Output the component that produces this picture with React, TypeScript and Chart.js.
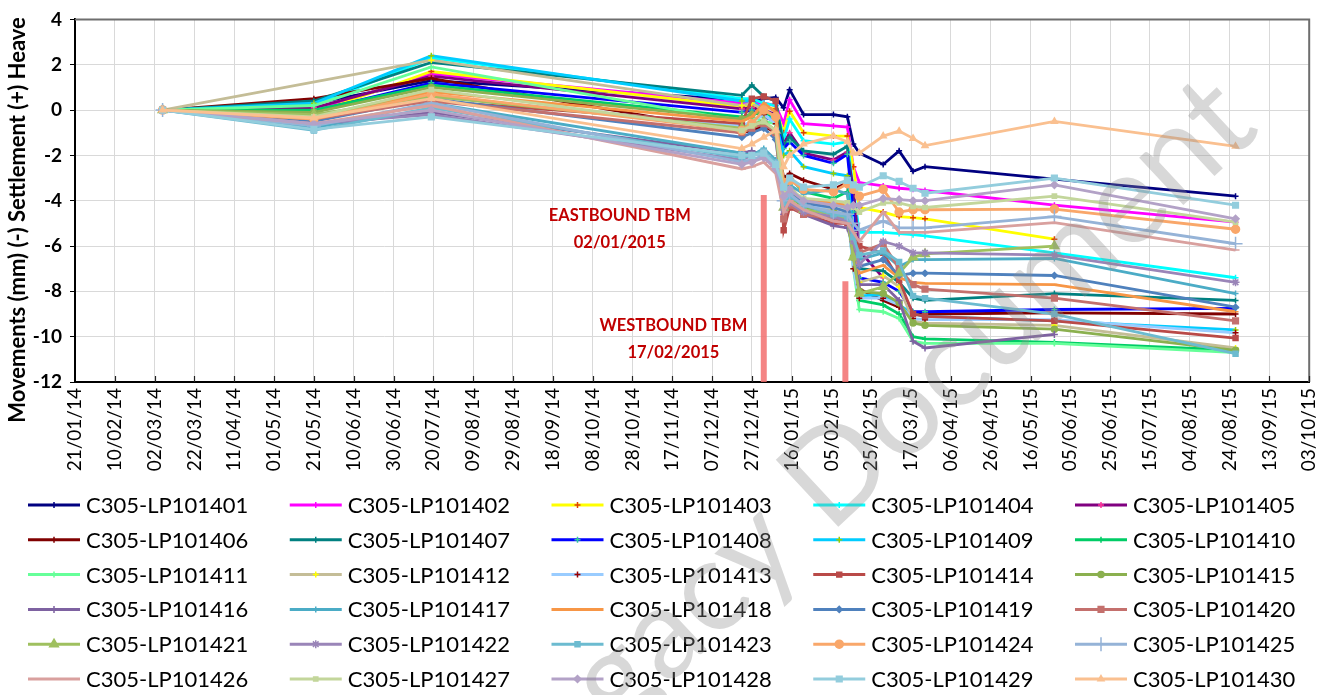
import React, { useEffect, useRef } from "react";
import { Chart, registerables } from "chart.js";
import { drawPoint } from "chart.js/helpers";

Chart.register(...registerables);

const FONT = "Lato, 'Open Sans', sans-serif";

// ---------- data ----------
const tickDates = [
  "21/01/14", "10/02/14", "02/03/14", "22/03/14", "11/04/14", "01/05/14", "21/05/14", "10/06/14",
  "30/06/14", "20/07/14", "09/08/14", "29/08/14", "18/09/14", "08/10/14", "28/10/14", "17/11/14",
  "07/12/14", "27/12/14", "16/01/15", "05/02/15", "25/02/15", "17/03/15", "06/04/15", "26/04/15",
  "16/05/15", "05/06/15", "25/06/15", "15/07/15", "04/08/15", "24/08/15", "13/09/15", "03/10/15",
];

const measurementDates = [
  "06/03/14", "21/05/14", "19/07/14", "22/12/14", "27/12/14", "02/01/15", "08/01/15", "12/01/15",
  "15/01/15", "22/01/15", "06/02/15", "13/02/15", "16/02/15", "19/02/15", "03/03/15", "11/03/15",
  "18/03/15", "24/03/15", "28/05/15", "27/08/15",
];

const seriesNames = [
  "C305-LP101401", "C305-LP101402", "C305-LP101403", "C305-LP101404", "C305-LP101405",
  "C305-LP101406", "C305-LP101407", "C305-LP101408", "C305-LP101409", "C305-LP101410",
  "C305-LP101411", "C305-LP101412", "C305-LP101413", "C305-LP101414", "C305-LP101415",
  "C305-LP101416", "C305-LP101417", "C305-LP101418", "C305-LP101419", "C305-LP101420",
  "C305-LP101421", "C305-LP101422", "C305-LP101423", "C305-LP101424", "C305-LP101425",
  "C305-LP101426", "C305-LP101427", "C305-LP101428", "C305-LP101429", "C305-LP101430",
];

const lp401 = [0, 0.3, 1.3, 0.45, 0.35, 0.5, 0.55, 0.1, 0.9, -0.2, -0.2, -0.3, -1.5, -1.9, -2.4, -1.8, -2.7, -2.5, -3.05, -3.8];
const lp402 = [0, 0.0, 1.6, 0.3, 0.3, 0.3, 0.2, -0.6, 0.45, -0.6, -0.7, -0.75, -2.5, -3.2, -3.35, -3.45, -3.5, -3.55, -4.2, -4.95];
const lp403 = [0, -0.15, 1.7, 0.15, 0.2, 0.1, 0.05, -1.0, -0.05, -1.0, -1.15, -1.15, -2.5, -4.3, -4.5, -4.7, -4.75, -4.8, -5.7, null];
const lp404 = [0, 0.2, 2.3, 0.5, 0.5, 0.3, 0.2, -1.3, -0.4, -1.35, -1.5, -1.4, -3.5, -5.4, -5.4, -5.45, -5.5, -5.55, -6.3, -7.4];
const lp405 = [0, 0.1, 1.5, 0.05, 0.1, 0.0, -0.2, -1.5, -1.0, -1.9, -2.2, -1.85, -3.5, -6.2, -7.4, null, null, null, null, null];
const lp406 = [0, 0.5, 1.4, -1.0, -0.9, -0.7, -1.0, -3.0, -2.8, -3.1, -3.5, -3.2, -5.5, -7.9, -8.4, -8.7, -9.0, -9.0, -8.95, -9.0];
const lp407 = [0, 0.4, 2.1, 0.65, 1.1, 0.6, 0.4, -1.6, -1.2, -1.8, -1.95, -1.6, -4.5, -7.0, -7.1, -7.6, -8.3, -8.4, -8.1, -8.4];
const lp408 = [0, -0.05, 1.2, -0.1, 0.0, -0.3, -0.5, -1.7, -1.4, -2.0, -2.35, -1.95, -4.5, -7.4, -7.6, -8.0, -8.9, -8.9, -8.8, -8.75];
const lp409 = [0, 0.3, 2.4, 0.4, 0.4, 0.0, -0.5, -2.0, -1.8, -2.5, -2.8, -2.9, -5.5, -8.2, -8.15, -8.6, -9.0, -9.1, -9.3, -9.7];
const lp410 = [0, 0.0, 1.1, -0.3, -0.2, -0.1, -0.3, -3.2, -3.0, -3.6, -3.9, -3.6, -6.0, -8.4, -8.6, -9.0, -10.0, -10.1, -10.25, -10.6];
const lp411 = [0, 0.2, 1.9, -0.5, -0.3, -0.5, -0.6, -3.8, -3.5, -4.0, -4.2, -4.3, -7.0, -8.8, -8.9, -9.2, -10.2, -10.3, -10.3, -10.7];
const lp412 = [0, null, 2.2, 0.2, 0.3, 0.0, -0.3, -3.5, -3.3, -4.1, -4.4, -4.4, -6.5, -7.6, -7.3, -7.8, -9.3, -9.4, -9.5, -10.5];
const lp413 = [0, -0.3, 0.6, -0.7, -0.5, -0.2, -0.6, -4.0, -3.6, -4.2, -4.3, -4.5, -7.0, -8.3, -8.3, -8.6, -9.2, -9.25, -9.25, -9.83];
const lp414 = [0, -0.2, 0.4, -0.6, 0.5, 0.6, 0.4, -5.3, -4.3, -4.6, -5.0, -5.0, -5.5, -6.0, -6.3, -7.5, -9.0, -9.1, -9.3, -10.06];
const lp415 = [0, -0.1, 1.0, -0.4, -0.2, 0.0, -0.3, -4.2, -3.8, -4.3, -4.5, -4.6, -6.5, -8.0, -8.1, -8.5, -9.4, -9.5, -9.67, -10.6];
const lp416 = [0, -0.7, -0.1, -1.9, -1.8, -2.0, -2.3, -4.6, -4.2, -4.6, -5.1, -5.2, -6.0, -7.7, -7.7, -8.4, -10.2, -10.5, -9.9, null];
const lp417 = [0, -0.8, 0.3, -1.9, -2.0, -1.7, -2.2, -3.6, -3.3, -3.7, -3.5, -3.7, -5.5, -6.6, -6.3, -6.9, -6.6, -6.6, -6.55, -8.1];
const lp418 = [0, -0.3, 0.8, -0.5, -0.3, 0.3, -0.1, -3.9, -3.6, -4.0, -4.1, -4.2, -5.8, -7.2, -6.85, -7.4, -7.6, -7.65, -7.7, -8.9];
const lp419 = [0, -0.5, 0.5, -1.2, -1.0, -0.8, -1.3, -4.0, -3.7, -4.1, -4.3, -4.5, -5.8, -6.9, -6.6, -7.3, -7.2, -7.2, -7.3, -8.7];
const lp420 = [0, -0.4, 0.4, -1.0, -0.8, -0.6, -1.0, -4.8, -4.2, -4.6, -4.8, -4.9, -5.7, -6.3, -5.9, -7.0, -7.7, -7.9, -8.3, -9.3];
const lp421 = [0, -0.2, 0.6, -0.8, -0.6, -0.5, -0.9, -4.3, -4.0, -4.4, -4.6, -4.8, -6.5, -8.1, -7.8, -7.2, -6.5, -6.35, -6.0, null];
const lp422 = [0, -0.6, -0.2, -2.2, -2.0, -1.9, -2.4, -4.4, -4.1, -4.5, -4.7, -4.9, -5.8, -6.8, -5.8, -6.0, -6.3, -6.3, -6.4, -7.6];
const lp423 = [0, -0.9, 0.1, -2.1, -2.0, -1.8, -2.3, -4.1, -3.8, -4.2, -4.6, -4.7, -5.6, -6.4, -6.2, -6.7, -8.2, -8.3, -9.0, -10.75];
const lp424 = [0, -0.4, 0.7, -0.9, -0.6, 0.0, -0.3, -3.2, -3.1, -3.5, -3.6, -3.25, -3.5, -3.8, -3.5, -4.5, -4.4, -4.4, -4.37, -5.26];
const lp425 = [0, -0.7, 0.3, -2.3, -2.2, -2.0, -2.5, -4.0, -3.7, -4.2, -4.5, -4.6, -5.0, -5.3, -4.9, -5.2, -5.2, -5.2, -4.7, -5.9];
const lp426 = [0, -0.6, 0.2, -2.6, -2.5, -2.3, -2.8, -4.5, -4.0, -4.4, -4.9, -5.0, -5.4, -5.8, -4.5, -5.4, -5.4, -5.4, -4.97, -6.18];
const lp427 = [0, -0.3, 0.9, -0.9, -0.7, -0.5, -0.9, -3.7, -3.5, -3.9, -4.0, -4.1, -4.3, -4.5, -4.1, -4.1, -4.25, -4.3, -3.8, -4.95];
const lp428 = [0, -0.6, 0.0, -2.4, -2.3, -2.1, -2.6, -3.8, -3.5, -4.0, -4.2, -4.3, -4.2, -4.2, -3.9, -3.95, -4.0, -4.0, -3.3, -4.8];
const lp429 = [0, -0.85, -0.3, -2.0, -2.0, -1.9, -2.4, -3.4, -3.0, -3.4, -3.3, -3.1, -3.3, -3.4, -2.9, -3.15, -3.45, -3.67, -3.0, -4.2];
const lp430 = [0, -0.35, 0.5, -1.7, -1.5, -1.2, -0.9, -2.5, -2.0, -1.5, -1.15, -1.4, -1.9, -1.9, -1.15, -0.93, -1.25, -1.57, -0.5, -1.6];

const seriesValues = [
  lp401, lp402, lp403, lp404, lp405, lp406, lp407, lp408, lp409, lp410,
  lp411, lp412, lp413, lp414, lp415, lp416, lp417, lp418, lp419, lp420,
  lp421, lp422, lp423, lp424, lp425, lp426, lp427, lp428, lp429, lp430,
];

// TBM passage markers
const markerDates = ["02/01/15", "12/02/15"];
const markerTops = [-3.75, -7.55];
const markerLabels = [
  ["EASTBOUND TBM", "02/01/2015"],
  ["WESTBOUND TBM", "17/02/2015"],
];

// ---------- styles ----------
const seriesColors = [
  "#000080", "#FF00FF", "#FFFF00", "#00FFFF", "#800080",
  "#800000", "#008080", "#0000FF", "#00CCFF", "#00CC66",
  "#66FF99", "#C4BD97", "#99CCFF", "#B94A48", "#8BB04F",
  "#7E62A1", "#4BACC6", "#F79646", "#4F81BD", "#C4706D",
  "#9FC05F", "#9A85B8", "#6CBBD0", "#F9A76A", "#95B3D7",
  "#D9A09E", "#C3D69B", "#B3A2C7", "#93CDDD", "#FAC090",
];
const markerColors = [
  null, null, "#E04000", null, "#FF3399",
  null, null, "#33CC99", "#99CC00", null,
  null, "#FFFF00", "#990000", null, null,
  null, null, null, null, null,
  null, null, null, null, null,
  null, null, null, null, null,
];
const markerStyles = [
  "cross", "cross", "cross", "cross", "cross",
  "cross", "cross", "cross", "cross", "cross",
  "cross", "cross", "cross", "rect", "circle",
  "cross", "cross", "dash", "rectRot", "rect",
  "triangle", "star", "rect", "circle", "cross",
  "dash", "rect", "rectRot", "rect", "triangle",
];
const markerSizes = [
  3, 3, 3, 3, 3,
  3, 3, 3, 3, 3,
  3, 3, 3, 3.5, 3,
  3.5, 3, 3, 3, 4,
  5, 4, 3.5, 4, 7,
  4, 3, 3.5, 4, 3.5,
];

const toDay = (s: string) => {
  const [d, m, y] = s.split("/").map(Number);
  return Date.UTC(2000 + y, m - 1, d) / 86400000;
};

const decorPlugin = {
  id: "decor",
  afterDatasetsDraw(chart: any) {
    const { ctx, chartArea } = chart;
    const { left, right, top, bottom } = chartArea;
    ctx.save();
    // frame top/right
    ctx.strokeStyle = "#6e6e6e";
    ctx.lineWidth = 2;
    ctx.beginPath();
    ctx.moveTo(left, top);
    ctx.lineTo(right, top);
    ctx.lineTo(right, bottom);
    ctx.stroke();
    // inside tick marks on x axis
    const xs = chart.scales.x;
    ctx.strokeStyle = "#222";
    ctx.lineWidth = 1.2;
    tickDates.forEach((d, i) => {
      if (i === 0) return;
      const px = Math.round(xs.getPixelForValue(toDay(d))) + 0.5;
      ctx.beginPath();
      ctx.moveTo(px, bottom);
      ctx.lineTo(px, bottom - 6);
      ctx.stroke();
    });
    ctx.restore();
  },
  afterDraw(chart: any) {
    const { ctx } = chart;
    const xs = chart.scales.x;
    const ys = chart.scales.y;
    ctx.save();

    // y-axis title
    ctx.save();
    ctx.translate(18, 220);
    ctx.rotate(-Math.PI / 2);
    ctx.fillStyle = "#000";
    ctx.font = `bold 22px ${FONT}`;
    ctx.textAlign = "center";
    ctx.textBaseline = "middle";
    ctx.fillText("Movements (mm) (-) Settlement (+) Heave", 0, 0);
    ctx.restore();

    // TBM annotation texts
    const annot = [
      { dx: -144, y: -4.65 },
      { dx: -172, y: -9.5 },
    ];
    ctx.fillStyle = "#C00000";
    ctx.font = `bold 16.5px ${FONT}`;
    ctx.textAlign = "center";
    ctx.textBaseline = "middle";
    markerDates.forEach((d, i) => {
      const px = xs.getPixelForValue(toDay(d)) + annot[i].dx;
      const py = ys.getPixelForValue(annot[i].y);
      markerLabels[i].forEach((t, j) => ctx.fillText(t, px, py + j * 27));
    });

    // legend
    const colW = 261.75;
    const rowH = 34.8;
    seriesNames.forEach((name, i) => {
      const col = i % 5;
      const row = Math.floor(i / 5);
      const x0 = 28 + col * colW;
      const y = 505 + row * rowH;
      ctx.strokeStyle = seriesColors[i];
      ctx.lineWidth = 3;
      ctx.beginPath();
      ctx.moveTo(x0, y);
      ctx.lineTo(x0 + 52, y);
      ctx.stroke();
      const mc = markerColors[i] || seriesColors[i];
      ctx.fillStyle = mc;
      ctx.strokeStyle = mc;
      ctx.lineWidth = 1.5;
      drawPoint(ctx, { pointStyle: markerStyles[i], radius: markerSizes[i], borderWidth: 1.5, rotation: 0 }, x0 + 26, y);
      ctx.fillStyle = "#000";
      ctx.font = `22px ${FONT}`;
      ctx.textAlign = "left";
      ctx.textBaseline = "middle";
      ctx.fillText(name, x0 + 58, y + 1);
    });

    // watermark
    ctx.save();
    ctx.translate(1262, 132);
    ctx.rotate(-0.75);
    ctx.fillStyle = "rgba(140,140,140,0.34)";
    ctx.font = `128px ${FONT}`;
    ctx.textAlign = "right";
    ctx.textBaseline = "alphabetic";
    ctx.fillText("Legacy Document", 0, 0);
    ctx.restore();

    ctx.restore();
  },
};

export default function App() {
  const canvasRef = useRef<HTMLCanvasElement | null>(null);

  useEffect(() => {
    document.body.style.margin = "0";
    const canvas = canvasRef.current;
    if (!canvas) return;

    const xDays = measurementDates.map(toDay);

    const datasets: any[] = seriesValues.map((vals, i) => ({
      label: seriesNames[i],
      data: vals
        .map((v, j) => (v === null ? null : { x: xDays[j], y: v }))
        .filter((p) => p !== null),
      borderColor: seriesColors[i],
      backgroundColor: seriesColors[i],
      borderWidth: 2.8,
      pointStyle: markerStyles[i],
      pointRadius: markerSizes[i],
      pointBorderWidth: 1.5,
      pointBackgroundColor: markerColors[i] || seriesColors[i],
      pointBorderColor: markerColors[i] || seriesColors[i],
      tension: 0,
      order: 40 - i,
    }));

    markerDates.forEach((d, i) => {
      datasets.push({
        label: "marker" + i,
        data: [
          { x: toDay(d), y: markerTops[i] },
          { x: toDay(d), y: -12 },
        ],
        borderColor: "rgba(242,110,110,0.85)",
        borderWidth: 6,
        borderCapStyle: "butt",
        pointRadius: 0,
        order: 0,
      });
    });

    const chart = new Chart(canvas, {
      type: "line",
      data: { datasets },
      options: {
        responsive: false,
        animation: false,
        devicePixelRatio: 1,
        layout: { padding: { left: 0, right: 25, top: 13, bottom: 0 } },
        plugins: {
          legend: { display: false },
          tooltip: { enabled: false },
        },
        scales: {
          x: {
            type: "linear",
            min: toDay(tickDates[0]),
            max: toDay(tickDates[tickDates.length - 1]),
            afterBuildTicks: (axis: any) => {
              axis.ticks = tickDates.map((d) => ({ value: toDay(d) }));
            },
            afterFit: (axis: any) => {
              axis.height = 313;
            },
            ticks: {
              autoSkip: false,
              maxRotation: 90,
              minRotation: 90,
              padding: 6,
              color: "#000",
              font: { family: FONT, size: 19 },
              callback: (_v: any, i: number) => tickDates[i],
            },
            grid: { color: "#d9d9d9", lineWidth: 1, drawTicks: false },
            border: { display: true, color: "#000", width: 2 },
          },
          y: {
            min: -12,
            max: 4,
            afterFit: (axis: any) => {
              axis.width = 75;
            },
            ticks: {
              stepSize: 2,
              padding: 8,
              color: "#000",
              font: { family: FONT, size: 19, weight: "bold" },
            },
            grid: { color: "#d9d9d9", tickColor: "#000", tickLength: 5 },
            border: { display: true, color: "#000", width: 2 },
          },
        },
      } as any,
      plugins: [decorPlugin],
    });

    return () => chart.destroy();
  }, []);

  return (
    <div style={{ width: 1338, height: 695, background: "#fff" }}>
      <canvas ref={canvasRef} width={1338} height={695} style={{ display: "block" }} />
    </div>
  );
}
